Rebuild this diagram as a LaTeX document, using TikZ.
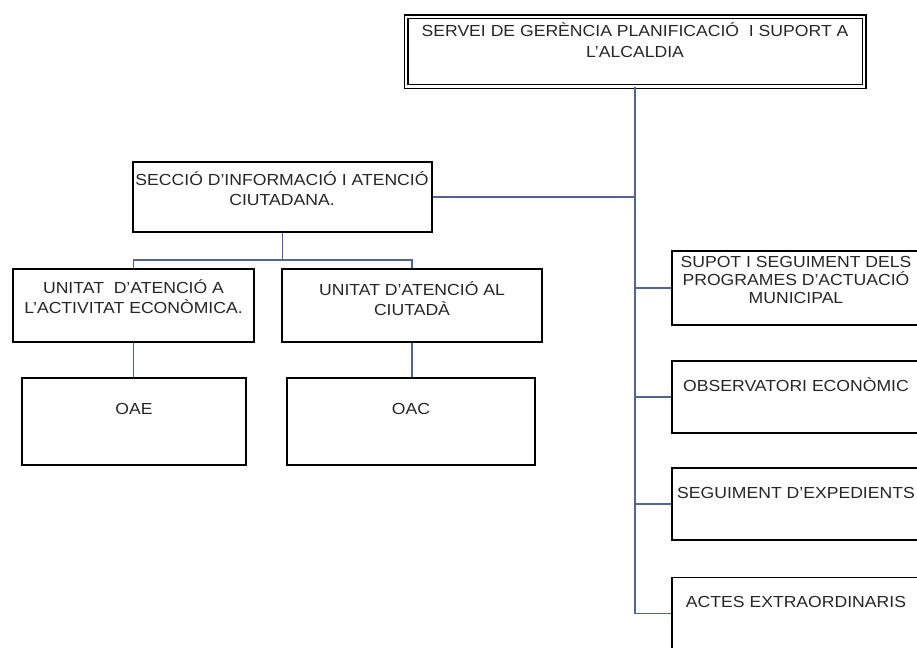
\documentclass[tikz,border=0pt]{standalone}
\usepackage{fontspec}
\setmainfont{Liberation Sans}[FakeStretch=1.1]
\definecolor{blaulinia}{RGB}{80,100,150}

\begin{document}
\begin{tikzpicture}[x=1pt, y=-1pt,
  caixa/.style={draw=black, line width=1.5pt, inner sep=0pt},
  text caixa/.style={font=\fontsize{16}{20.5}\selectfont, align=center, inner sep=0pt, text=black!85},
  enllac/.style={draw=blaulinia, line width=1.2pt}]

  \useasboundingbox (0,0) rectangle (917,647);
  \clip (0,0) rectangle (917,647);

  % Servei (caixa de doble linia)
  \node[caixa, double, double distance=2.6pt, line width=1.2pt,
        minimum width=458pt, minimum height=69.5pt] (servei) at (635,51.75) {};
  \node[text caixa] (serveitxt) at (635,40) {SERVEI DE GERÈNCIA PLANIFICACIÓ \ I SUPORT A\\L'ALCALDIA};

  % Seccio i unitats (esquerra)
  \node[caixa, minimum width=299pt, minimum height=70pt] (seccio) at (282.5,197) {};
  \begin{scope}[every node/.style={caixa, minimum height=73pt}]
    \node[minimum width=241pt] (uae) at (133.5,305.5) {};
    \node[minimum width=260pt] (uac) at (412,305.5) {};
    \node[minimum width=224pt, minimum height=87pt] (oae) at (134,421.5) {};
    \node[minimum width=248pt, minimum height=87pt] (oac) at (411,421.5) {};
  \end{scope}

  \node[text caixa] (secciotxt) at (282,188.5) {SECCIÓ D'INFORMACIÓ I ATENCIÓ\\CIUTADANA.};
  \node[text caixa] (uaetxt) at (133.5,296.5) {UNITAT \ D'ATENCIÓ A\\L'ACTIVITAT ECONÒMICA.};
  \node[text caixa] (uactxt) at (412,298.5) {UNITAT D'ATENCIÓ AL\\CIUTADÀ};
  \node[text caixa] (oaetxt) at (134,409) {OAE};
  \node[text caixa] (oactxt) at (411,409) {OAC};

  % Columna dreta
  \begin{scope}[every node/.style={caixa, minimum width=248pt, minimum height=72pt}]
    \node[minimum height=74pt] (supot) at (796,288) {};
    \node (observ) at (796,397) {};
    \node (seguim) at (796,504) {};
    \node (actes) at (796,613.5) {};
  \end{scope}

  \node[text caixa, font=\fontsize{16}{18.3}\selectfont] (supottxt) at (796,280) {SUPOT I SEGUIMENT DELS\\PROGRAMES D'ACTUACIÓ\\MUNICIPAL};
  \node[text caixa] (observtxt) at (796,385) {OBSERVATORI ECONÒMIC};
  \node[text caixa] (seguimtxt) at (796,493) {SEGUIMENT D'EXPEDIENTS};
  \node[text caixa] (actestxt) at (796,602) {ACTES EXTRAORDINARIS};

  % Connexions
  \coordinate (bifurca) at (282.5,260);
  \draw[enllac] (seccio.south) -- (bifurca);
  \draw[enllac] (uae.north) |- (bifurca) -| (uac.north);
  \draw[enllac] (uae.south) -- (oae.north -| uae.south);
  \draw[enllac] (uac.south) -- (oac.north -| uac.south);

  \draw[enllac] (servei.south) |- (actes.west);
  \draw[enllac] (seccio.east) -- (seccio.east -| servei.south);
  \foreach \n in {supot, observ, seguim}
    \draw[enllac] (\n.west) -- (\n.west -| servei.south);

\end{tikzpicture}
\end{document}
